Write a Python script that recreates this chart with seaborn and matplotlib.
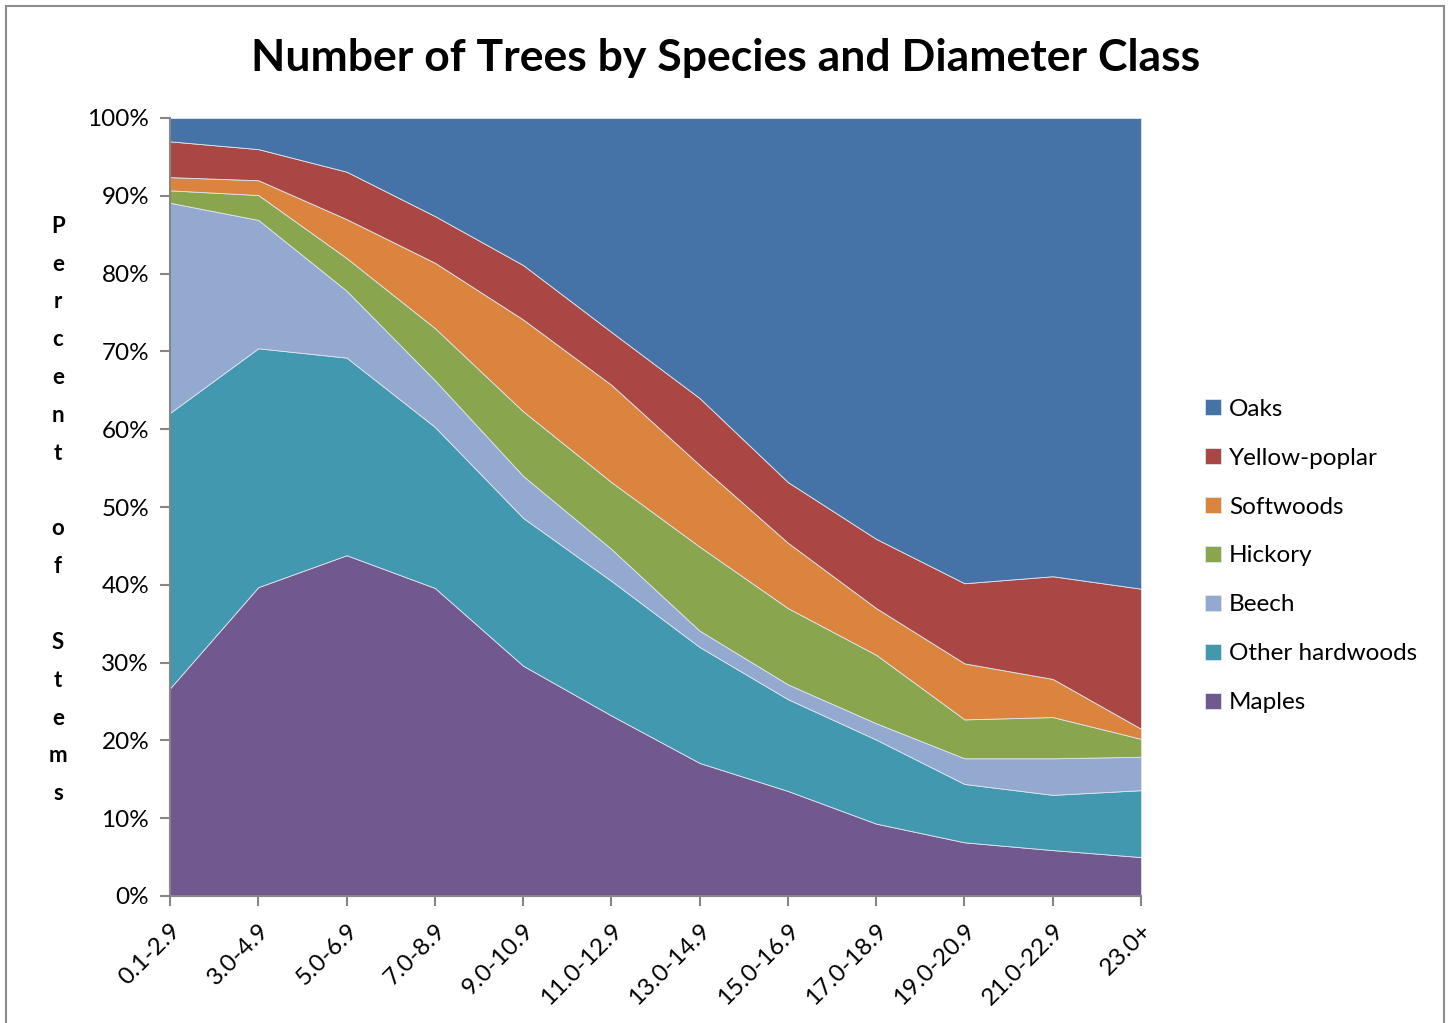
import matplotlib
matplotlib.use("Agg")
import matplotlib.pyplot as plt
import seaborn as sns
import numpy as np
from matplotlib.patches import Rectangle

# ---- data (percent of stems) ----
classes = ["0.1-2.9", "3.0-4.9", "5.0-6.9", "7.0-8.9", "9.0-10.9", "11.0-12.9",
           "13.0-14.9", "15.0-16.9", "17.0-18.9", "19.0-20.9", "21.0-22.9", "23.0+"]
species = ["Maples", "Other hardwoods", "Beech", "Hickory", "Softwoods", "Yellow-poplar", "Oaks"]

# cumulative tops of each layer (%)
maples_top   = [26.7, 39.7, 43.8, 39.6, 29.6, 23.2, 17.1, 13.5, 9.3, 6.9, 5.9, 5.0]
otherhw_top  = [62.1, 70.4, 69.2, 60.3, 48.6, 40.5, 32.0, 25.3, 20.1, 14.4, 13.0, 13.6]
beech_top    = [89.1, 86.9, 77.8, 66.3, 54.0, 44.6, 34.1, 27.2, 22.2, 17.7, 17.7, 17.9]
hickory_top  = [90.7, 90.1, 82.0, 73.0, 62.3, 53.2, 44.9, 37.0, 31.0, 22.7, 23.0, 20.2]
softwood_top = [92.4, 92.0, 87.0, 81.4, 74.1, 65.7, 55.4, 45.4, 37.0, 29.9, 27.9, 21.5]
ypoplar_top  = [97.0, 96.0, 93.1, 87.4, 81.1, 72.5, 64.0, 53.2, 45.9, 40.2, 41.1, 39.5]
oaks_top     = [100.0] * 12

colors = {"Oaks": "#4572A7", "Yellow-poplar": "#AA4643", "Softwoods": "#DB843D",
          "Hickory": "#89A54E", "Beech": "#93A9CF", "Other hardwoods": "#4198AF",
          "Maples": "#71588F"}

tops = [maples_top, otherhw_top, beech_top, hickory_top, softwood_top, ypoplar_top, oaks_top]
layers = []
prev = np.zeros(len(classes))
for t in tops:
    t = np.array(t)
    layers.append(t - prev)
    prev = t

sns.set_theme(style="white")
plt.rcParams['font.family'] = ['Lato', 'DejaVu Sans']
plt.rcParams['text.color'] = 'black'

fig = plt.figure(figsize=(14.52, 10.23), dpi=100)
ax = fig.add_axes([170/1452, 1-896/1023, (1141-170)/1452, (896-118)/1023])

x = np.arange(len(classes))
pal = sns.color_palette([colors[s] for s in species])
polys = ax.stackplot(x, *layers, colors=pal, labels=species, linewidth=0.6,
                     edgecolor="#dfe6ee")

ax.set_xlim(0, len(classes)-1)
ax.set_ylim(0, 100)
ax.set_yticks(np.arange(0, 101, 10))
ax.set_yticklabels([f"{v}%" for v in range(0, 101, 10)], fontsize=17.5)
ax.set_xticks(x)
ax.set_xticklabels(classes, rotation=45, ha="right", rotation_mode="anchor", fontsize=17.5)
ax.tick_params(axis="both", which="both", direction="out", length=7, width=1.5,
               color="#868686", colors="black", labelcolor="black")
ax.tick_params(axis="y", pad=8, left=True)
ax.tick_params(axis="x", pad=10, bottom=True)
sns.despine(ax=ax, top=True, right=True)
for s in ["left", "bottom"]:
    ax.spines[s].set_color("#868686")
    ax.spines[s].set_linewidth(1.5)

ax.set_title("Number of Trees by Species and Diameter Class", fontsize=32,
             fontweight="bold", pad=34, x=(726-170)/(1141-170), color="black")

ylab = "\n".join(list("Percent of Stems"))
fig.text(58/1452, 1-510/1023, ylab, ha="center", va="center", fontsize=16,
         fontweight="bold", linespacing=1.99, color="black")

handles, labels = ax.get_legend_handles_labels()
leg = fig.legend(handles[::-1], labels[::-1], loc="center left",
                 bbox_to_anchor=(1195/1452, 1-556/1023), frameon=False,
                 fontsize=17.5, handlelength=0.65, handleheight=0.65,
                 handletextpad=0.35, labelspacing=1.15, borderaxespad=0)
for t in leg.get_texts():
    t.set_color("black")

fig.add_artist(Rectangle((6/1452, -0.02), (1444-6)/1452, 1-6/1023+0.02,
                         transform=fig.transFigure, fill=False,
                         edgecolor="#8c8c8c", linewidth=1.5))

fig.savefig("out.png", dpi=100)
